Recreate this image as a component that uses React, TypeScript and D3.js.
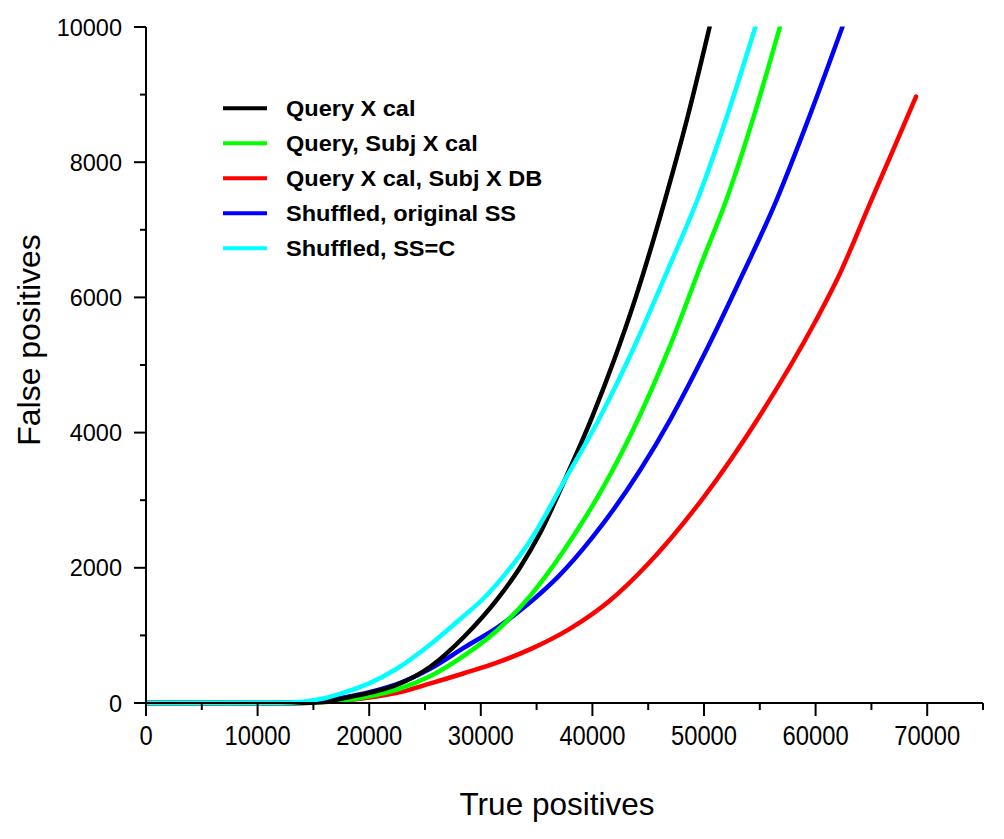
import React from "react";
import * as d3 from "d3";

type Pt = [number, number];

const seriesNames = [
  "Query X cal",
  "Query, Subj X cal",
  "Query X cal, Subj X DB",
  "Shuffled, original SS",
  "Shuffled, SS=C",
];
const seriesColors = ["#000000", "#00ff00", "#ff0000", "#0000ff", "#00ffff"];

const queryXCal: Pt[] = [
  [0, 0], [13500, 0], [16000, 20], [18000, 80], [20000, 150], [22500, 270],
  [25500, 540], [28500, 980], [31500, 1540], [33500, 2000], [35300, 2510],
  [37500, 3290], [40000, 4240], [42000, 5100], [43800, 5960], [46500, 7440],
  [48500, 8650], [50500, 10000],
];
const querySubjXCal: Pt[] = [
  [0, 0], [13500, 0], [16000, 15], [18000, 44], [20000, 100], [22500, 200],
  [25500, 400], [28500, 700], [31500, 1080], [34500, 1600], [38300, 2470],
  [41000, 3200], [44200, 4235], [47000, 5300], [50000, 6600], [52000, 7440],
  [54500, 8700], [56800, 10000],
];
const queryXCalSubjXDB: Pt[] = [
  [0, 0], [13500, 0], [16000, 15], [18000, 40], [20000, 80], [22500, 150],
  [25500, 290], [28500, 440], [31500, 600], [34500, 800], [38000, 1100],
  [41600, 1520], [45000, 2060], [50000, 3050], [55000, 4250], [60000, 5650],
  [62000, 6290], [65000, 7440], [67000, 8200], [69000, 8970],
];
const shuffledOriginal: Pt[] = [
  [0, 0], [13000, 0], [15000, 15], [18000, 90], [20000, 160], [22500, 280],
  [25500, 510], [28500, 820], [31500, 1120], [34500, 1500], [37000, 1880],
  [40000, 2450], [44300, 3450], [47000, 4200], [50000, 5150], [53000, 6180],
  [56500, 7440], [59500, 8700], [62400, 10000],
];
const shuffledSSC: Pt[] = [
  [0, 0], [12000, 5], [14000, 20], [16000, 70], [18000, 167], [20000, 290],
  [22500, 510], [25500, 870], [28500, 1290], [30100, 1524], [32000, 1870],
  [34500, 2420], [37500, 3290], [40700, 4235], [44300, 5470], [47000, 6500],
  [49400, 7440], [52000, 8650], [54600, 10000],
];

const seriesData = [queryXCal, querySubjXCal, queryXCalSubjXDB, shuffledOriginal, shuffledSSC];
// drawing order (cyan on top like the reference)
const drawOrder = [2, 3, 1, 0, 4];

const xMajorTicks = [0, 10000, 20000, 30000, 40000, 50000, 60000, 70000];
const xMinorTicks = [5000, 15000, 25000, 35000, 45000, 55000, 65000, 75000];
const yMajorTicks = [0, 2000, 4000, 6000, 8000, 10000];
const yMinorTicks = [1000, 3000, 5000, 7000, 9000];

const xTitle = "True positives";
const yTitle = "False positives";

export default function App() {
  const W = 1004;
  const H = 839;
  const x = d3.scaleLinear().domain([0, 75000]).range([146, 983]);
  const y = d3.scaleLinear().domain([0, 10000]).range([703, 27]);
  const line = d3
    .line<Pt>()
    .x((d) => x(d[0]))
    .y((d) => y(d[1]))
    .curve(d3.curveMonotoneX);
  const font = "'Liberation Sans', Arial, sans-serif";

  return (
    <svg
      width={W}
      height={H}
      style={{ position: "absolute", left: 0, top: 0, background: "#fff" }}
      fontFamily={font}
    >
      <rect x={0} y={0} width={W} height={H} fill="#fff" />
      <defs>
        <clipPath id="plotclip">
          <rect x={x(0)} y={y(10000) - 0.5} width={x(75000) - x(0)} height={y(0) - y(10000) + 10} />
        </clipPath>
      </defs>

      {/* curves */}
      <g clipPath="url(#plotclip)">
        {drawOrder.map((i) => (
          <path
            key={i}
            d={line(seriesData[i]) || ""}
            fill="none"
            stroke={seriesColors[i]}
            strokeWidth={4.5}
            strokeLinejoin="round"
            strokeLinecap="round"
          />
        ))}
      </g>

      {/* axes */}
      <g stroke="#000" strokeWidth={2}>
        <line x1={x(0)} x2={x(0)} y1={y(10000)} y2={y(0) + 13} />
        <line x1={x(0) - 12} x2={x(75000)} y1={y(0)} y2={y(0)} />
        {xMajorTicks.map((t) => (
          <line key={"xm" + t} x1={x(t)} x2={x(t)} y1={y(0)} y2={y(0) + 13} />
        ))}
        {xMinorTicks.map((t) => (
          <line key={"xn" + t} x1={x(t)} x2={x(t)} y1={y(0)} y2={y(0) + 7} />
        ))}
        {yMajorTicks.map((t) => (
          <line key={"ym" + t} x1={x(0) - 12} x2={x(0)} y1={y(t)} y2={y(t)} />
        ))}
        {yMinorTicks.map((t) => (
          <line key={"yn" + t} x1={x(0) - 6} x2={x(0)} y1={y(t)} y2={y(t)} />
        ))}
      </g>

      {/* tick labels */}
      <g fill="#000">
        {xMajorTicks.map((t) => (
          <text
            key={"xl" + t}
            transform={`translate(${x(t)},745) scale(0.88,1)`}
            textAnchor="middle"
            fontSize={27}
          >
            {t}
          </text>
        ))}
        {yMajorTicks.map((t) => (
          <text key={"yl" + t} x={122} y={y(t) + 8.5} textAnchor="end" fontSize={23.5}>
            {t}
          </text>
        ))}
      </g>

      {/* axis titles */}
      <text x={557} y={815} textAnchor="middle" fontSize={31.5} fill="#000">
        {xTitle}
      </text>
      <text
        transform="translate(40,340) rotate(-90)"
        textAnchor="middle"
        fontSize={32}
        fill="#000"
      >
        {yTitle}
      </text>

      {/* legend */}
      <g>
        {seriesNames.map((name, i) => {
          const ly = 108.3 + i * 35;
          return (
            <g key={name}>
              <line x1={223} x2={267} y1={ly} y2={ly} stroke={seriesColors[i]} strokeWidth={4} />
              <text
                transform={`translate(286,${ly + 7.5}) scale(1.07,1)`}
                fontSize={22}
                fontWeight="bold"
                fill="#000"
              >
                {name}
              </text>
            </g>
          );
        })}
      </g>
    </svg>
  );
}
